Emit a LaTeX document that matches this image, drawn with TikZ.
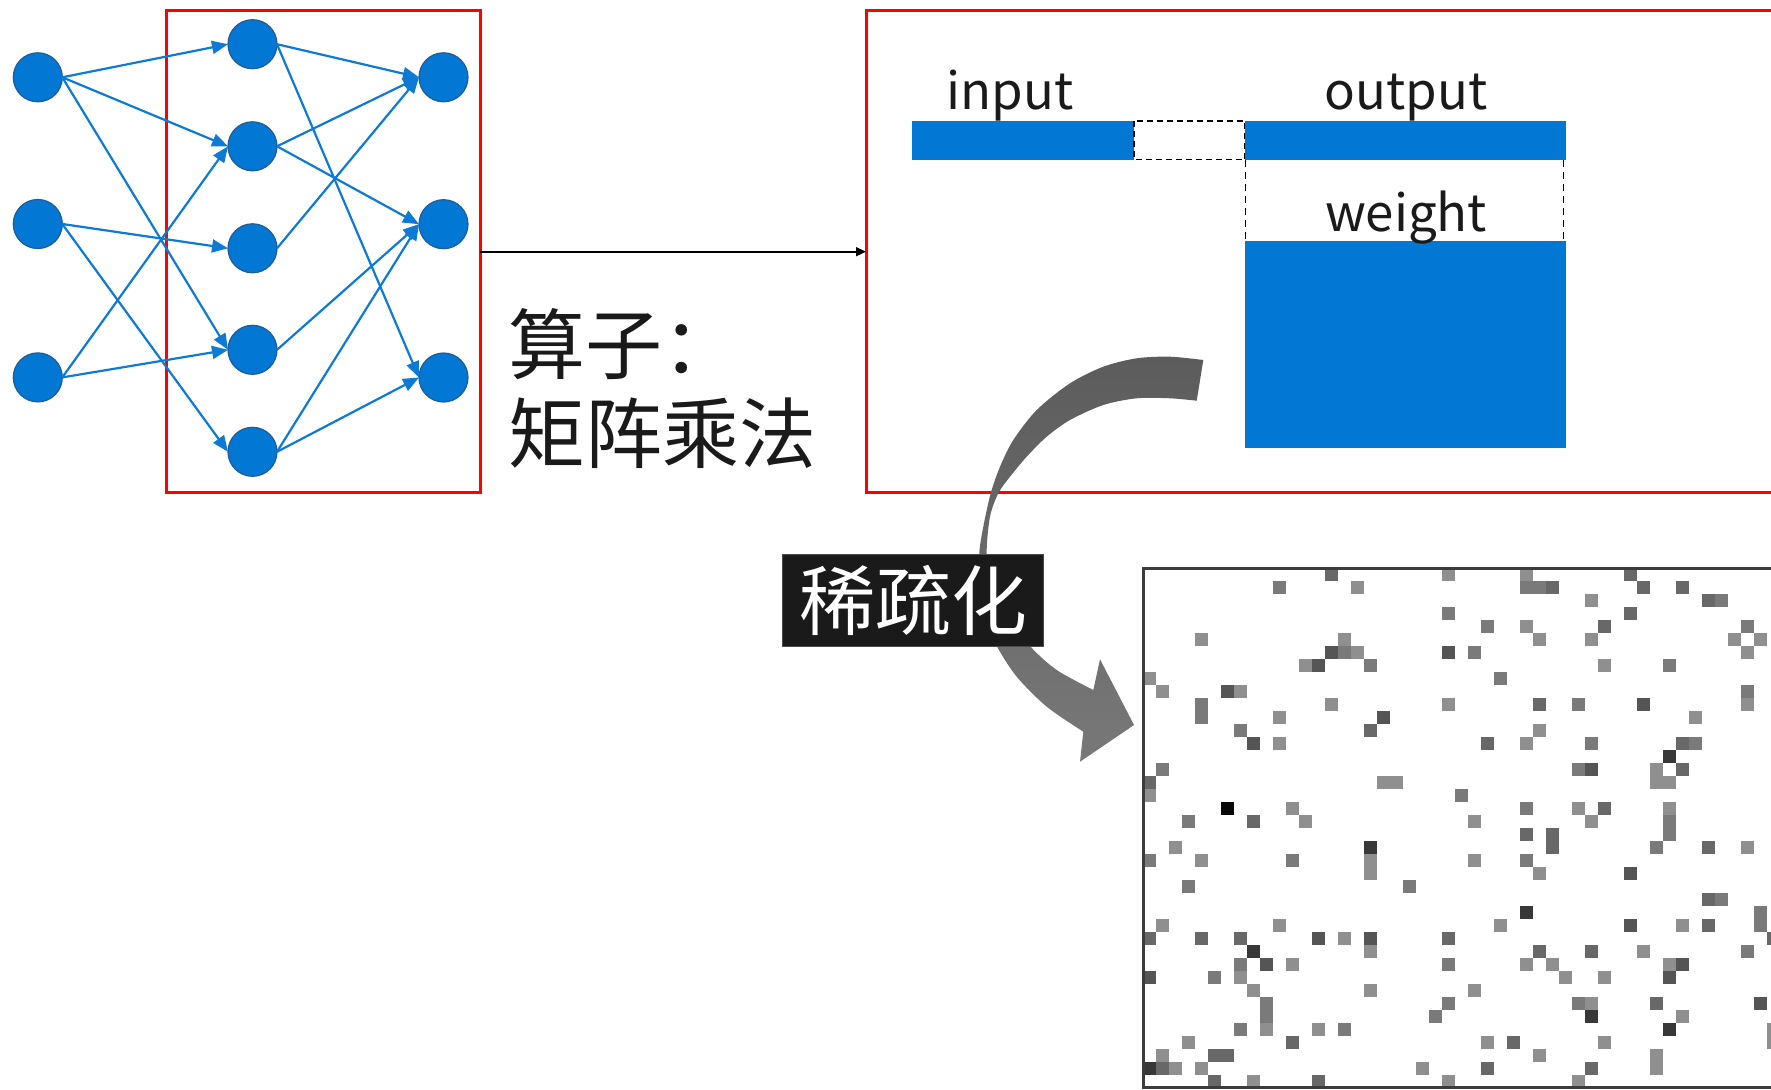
\documentclass[tikz,border=0pt]{standalone}
\usepackage{fontspec}
\setmainfont{Noto Sans CJK SC}
\usetikzlibrary{arrows.meta}

\definecolor{nodeblue}{HTML}{0277D4}
\definecolor{nodeedge}{HTML}{1F5C99}
\definecolor{linkblue}{HTML}{0D7AD6}
\definecolor{boxred}{HTML}{FF0000}
\definecolor{barblue}{HTML}{0277D4}
\definecolor{inkgray}{HTML}{1A1A1A}
\definecolor{gridline}{HTML}{3C3C3C}
\definecolor{arrowtop}{HTML}{5C5C5C}
\definecolor{arrowbot}{HTML}{787878}
\definecolor{cellL}{HTML}{8F8F8F}
\definecolor{cellM}{HTML}{7A7A7A}
\definecolor{cellD}{HTML}{686868}
\definecolor{cellK}{HTML}{555555}
\definecolor{cellV}{HTML}{383838}
\definecolor{cellB}{HTML}{080808}

\tikzset{
  neuron/.style={circle, minimum size=49pt, inner sep=0pt, outer sep=0pt, fill=nodeblue, draw=nodeedge, line width=1.2pt},
  link/.style={draw=linkblue, line width=2.2pt, -{Triangle[length=16pt,width=13pt]}},
  redbox/.style={draw=boxred, line width=3pt, inner sep=0pt, outer sep=0pt, anchor=north west},
  flow/.style={draw=black, line width=1.6pt, -{Triangle[length=10pt,width=9pt]}},
  dashbox/.style={draw=black, line width=1.4pt, dash pattern=on 6pt off 4pt},
  latinlabel/.style={font=\fontsize{51}{58}\selectfont, text=inkgray, inner sep=0pt},
  cjklabel/.style={font=\fontsize{77}{89}\selectfont, text=inkgray, inner sep=0pt, align=left},
  tagbox/.style={fill=inkgray, draw=black!70, line width=1pt, text=white, inner sep=0pt,
    font=\fontsize{76}{80}\selectfont, minimum width=261pt, minimum height=91.5pt},
  matline/.style={draw=gridline, line width=3pt}
}

\begin{document}
\begin{tikzpicture}[x=1pt, y=-1pt]
\useasboundingbox (0,0) rectangle (1771,1089);
\clip (0,0) rectangle (1771,1089);

% frames around the layer and the operator
\node[redbox, minimum width=313.3pt, minimum height=482pt] (layerbox) at (166.7,10.7) {};
\node[redbox, minimum width=960pt, minimum height=482pt] (opbox) at (866,10.7) {};

% network layers
\node[neuron] (l1) at (37.8,77.3) {};
\node[neuron] (l2) at (37.8,224) {};
\node[neuron] (l3) at (37.8,377.4) {};
\node[neuron] (m1) at (252.5,44.2) {};
\node[neuron] (m2) at (252.5,146.3) {};
\node[neuron] (m3) at (252.5,248.3) {};
\node[neuron] (m4) at (252.5,349.8) {};
\node[neuron] (m5) at (252.5,451.8) {};
\node[neuron] (r1) at (443.5,77.3) {};
\node[neuron] (r2) at (443.5,224.2) {};
\node[neuron] (r3) at (443.5,377.5) {};

\draw[link] (l1.east) -- (m1.west);
\draw[link] (l1.east) -- (m2.west);
\draw[link] (l1.east) -- (m4.west);
\draw[link] (l2.east) -- (m3.west);
\draw[link] (l2.east) -- (m5.west);
\draw[link] (l3.east) -- (m2.west);
\draw[link] (l3.east) -- (m4.west);
\draw[link] (m1.east) -- (r1.west);
\draw[link] (m1.east) -- (r3.west);
\draw[link] (m2.east) -- (r1.west);
\draw[link] (m2.east) -- (r2.west);
\draw[link] (m3.east) -- (r1.west);
\draw[link] (m4.east) -- (r2.west);
\draw[link] (m5.east) -- (r2.west);
\draw[link] (m5.east) -- (r3.west);

\draw[flow] (layerbox.east) -- (opbox.west);

% operator caption (anchored at the baseline of its last line)
\node[cjklabel, anchor=base west] (opname) at (508,462) {算子：\\矩阵乘法};

% matrix multiplication blocks
\fill[barblue] (911.5,121) rectangle (1134,159.5);
\draw[dashbox] (1134,121) rectangle (1245,159.5);
\fill[barblue] (1245,121) rectangle (1565.5,159.5);
\draw[dashbox, dash pattern=on 7pt off 5pt] (1245.5,159.5) -- (1245.5,240.6);
\draw[dashbox, dash pattern=on 7pt off 5pt] (1563.5,159.5) -- (1563.5,240.6);
\fill[barblue] (1245,240.6) rectangle (1565.5,448.4);
\node[latinlabel, anchor=base] (inlbl) at (1010,109.3) {input};
\node[latinlabel, anchor=base] (outlbl) at (1406,109.3) {output};
\node[latinlabel, anchor=base] (wlbl) at (1406,231.7) {weight};

% sparse weight matrix
\foreach \cc/\rr/\ss in {
14/0/D, 10/1/M, 16/1/L, 23/0/L, 23/3/M, 4/5/L, 15/5/L, 14/6/K, 15/6/M, 16/6/L,
12/7/L, 13/7/K, 17/7/M, 23/6/K, 0/8/L, 1/9/L, 6/9/K, 7/9/L, 4/10/M, 4/11/M,
14/10/L, 23/10/L, 10/11/L, 18/11/K, 7/12/M, 17/12/D, 8/13/K, 10/13/L, 1/15/M,
0/16/D, 0/17/L, 18/16/L, 19/16/L, 24/17/M, 6/18/B, 11/18/L, 3/19/M, 8/19/D, 12/19/L,
29/0/L, 29/1/M, 30/1/M, 31/1/D, 37/0/D, 38/1/D, 41/1/D, 34/2/L, 43/2/D, 44/2/M,
37/3/D, 26/4/M, 29/4/L, 35/4/D, 46/4/M, 30/5/L, 34/5/L, 45/5/L, 47/5/L, 46/6/L,
25/6/M, 35/7/L, 40/7/M, 27/8/M, 46/9/M, 46/10/L, 30/10/D, 33/10/M, 38/10/K,
42/11/L, 30/12/L, 26/13/D, 29/13/L, 34/13/M, 41/13/D, 42/13/M, 40/14/V, 39/15/L,
41/15/D, 33/15/M, 34/15/K, 39/16/L, 40/16/L, 29/18/M, 33/18/L, 35/18/D, 34/19/L,
25/19/L, 40/18/L, 40/19/M,
2/21/L, 0/22/M, 4/22/L, 11/22/M, 17/21/V, 17/22/L, 17/23/L, 20/24/M, 3/24/M,
1/27/L, 10/27/L, 0/28/D, 4/28/D, 7/28/D, 13/28/K, 15/28/L, 17/28/K, 17/29/L,
23/28/D, 8/29/V, 7/30/M, 7/31/L, 9/30/K, 11/30/L, 23/30/M, 0/31/K, 5/31/M,
8/32/L, 17/32/L, 9/33/M, 9/34/M, 9/35/L, 23/33/M, 22/34/M, 7/35/M, 13/35/L,
15/35/M, 3/36/L, 11/36/D, 1/37/L, 5/37/D, 6/37/D, 0/38/V, 1/38/D, 2/38/L,
4/38/L, 21/38/L, 5/39/D, 8/39/L, 13/39/D, 23/39/L,
40/20/M, 29/20/D, 31/20/D, 31/21/D, 39/21/M, 43/21/D, 46/21/L, 25/22/L, 29/22/M,
30/23/L, 37/23/K, 43/25/D, 44/25/M, 29/26/V, 47/26/M, 47/27/M, 27/27/L, 37/27/K,
41/27/L, 43/27/D, 48/28/D, 30/29/D, 34/29/D, 38/29/L, 46/29/M, 29/30/L, 31/30/L,
40/30/L, 41/30/K, 40/31/K, 32/31/L, 35/31/L, 25/32/L, 33/33/M, 34/33/L, 34/34/V,
39/33/D, 47/33/K, 41/34/L, 40/35/V, 48/35/L, 48/36/L, 26/36/L, 28/36/D, 35/36/L,
30/37/L, 39/37/L, 39/38/L, 26/38/D, 34/38/D, 33/39/L}
  \fill[fill=cell\ss] ({1143+13*\cc},{568+13*\rr}) rectangle ++(13,13);
\draw[matline] (1790,568.5) -- (1143.3,568.5) -- (1143.3,1087.3) -- (1790,1087.3);

% curved sparsification arrow
\shade[top color=arrowtop, bottom color=arrowbot]
  plot[smooth] coordinates {(1203.3,360) (1170,356.7) (1136.7,358.3) (1103.3,366.7)
    (1070,383.3) (1036.7,410) (1013.3,440) (1000,466.7) (990.7,493.3) (983.3,526.7)
    (979.3,553.3) (980,590) (986,620) (996.7,646) (1016.7,676.7) (1046.7,706.7) (1083.3,731.7)}
  -- (1080,761.7) -- (1134,725) -- (1100,659.3)
  -- plot[smooth] coordinates {(1093.3,690) (1056.7,670) (1030,646) (1008,615)
    (992,585) (986.7,553.3) (990,516.7) (998.3,493.3) (1010,476.7) (1026.7,456.7)
    (1046.7,436.7) (1070,420) (1103.3,405) (1136.7,398.3) (1170,398.3) (1196.7,400.7)}
  -- cycle;

\node[tagbox] (sparsetag) at (913.2,600.3) {稀疏化};
\end{tikzpicture}
\end{document}
